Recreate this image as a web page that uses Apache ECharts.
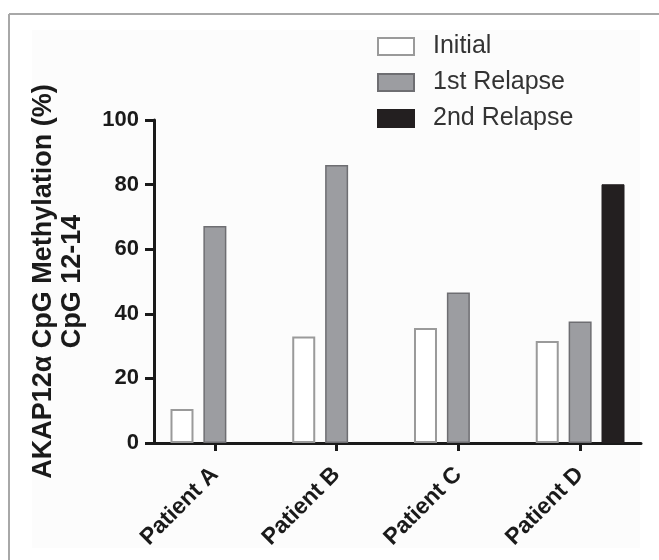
<!DOCTYPE html>
<html><head><meta charset="utf-8">
<script src="https://cdn.jsdelivr.net/npm/echarts/dist/echarts.min.js"></script>
<style>html,body{margin:0;padding:0;background:#fff}#c{width:659px;height:560px}</style>
</head><body><div id="c"></div>
<script>
const categories = ['Patient A', 'Patient B', 'Patient C', 'Patient D'];
const seriesNames = ['Initial', '1st Relapse', '2nd Relapse'];
const initial = [10.5, 33.0, 35.6, 31.6];
const firstRelapse = [67.2, 86.1, 46.6, 37.6];
const secondRelapse = [null, null, null, 80.1];
const yMin = 0, yMax = 100, yStep = 20;
const yName = 'AKAP12\u03b1 CpG Methylation (%)\nCpG 12-14';

const font = '"Liberation Sans", Arial, sans-serif';
const chart = echarts.init(document.getElementById('c'), null, {renderer: 'canvas'});
chart.setOption({
  animation: false,
  backgroundColor: '#ffffff',
  textStyle: {fontFamily: font},
  graphic: [
    {type: 'rect', silent: true, z: -10, shape: {x: 32, y: 30, width: 608, height: 518}, style: {fill: '#fcfcfc'}},
    {type: 'line', silent: true, shape: {x1: 9, y1: 14, x2: 659, y2: 14}, style: {stroke: '#a8a8a8', lineWidth: 2}},
    {type: 'line', silent: true, shape: {x1: 9, y1: 14, x2: 9, y2: 560}, style: {stroke: '#a8a8a8', lineWidth: 2}}
  ],
  legend: {
    orient: 'vertical', left: 372, top: 29, itemWidth: 36, itemHeight: 17, itemGap: 11,
    icon: 'rect',
    data: seriesNames,
    textStyle: {fontSize: 25, color: '#333', fontFamily: font, padding: [0, 0, 0, 14]}
  },
  grid: {left: 154, right: 18, top: 120, bottom: 117, containLabel: false},
  xAxis: {
    type: 'category', data: categories,
    axisLine: {lineStyle: {color: '#1a1a1a', width: 3}},
    axisTick: {show: true, alignWithLabel: true, length: 8, lineStyle: {color: '#1a1a1a', width: 3}},
    axisLabel: {rotate: 45, fontSize: 23, fontWeight: 'bold', color: '#1a1a1a', margin: 28, fontFamily: font}
  },
  yAxis: {
    type: 'value', min: yMin, max: yMax, interval: yStep,
    name: yName, nameLocation: 'middle', nameGap: 67, nameRotate: 90,
    nameTextStyle: {fontSize: 27, fontWeight: 'bold', color: '#1a1a1a', lineHeight: 29, fontFamily: font, align: 'center'},
    axisLine: {show: true, lineStyle: {color: '#1a1a1a', width: 3}},
    axisTick: {show: true, length: 9, lineStyle: {color: '#1a1a1a', width: 3}},
    splitLine: {show: false},
    axisLabel: {fontSize: 22, fontWeight: 'bold', color: '#1a1a1a', margin: 15, fontFamily: font}
  },
  series: [
    {name: seriesNames[0], type: 'bar', data: initial, barWidth: 23, barGap: '43%',
     itemStyle: {color: '#ffffff', borderColor: '#9a9a9a', borderWidth: 2}},
    {name: seriesNames[1], type: 'bar', data: firstRelapse, barWidth: 23, barGap: '43%',
     itemStyle: {color: '#9c9da1', borderColor: '#6e6e72', borderWidth: 1.5}},
    {name: seriesNames[2], type: 'bar', data: secondRelapse, barWidth: 23, barGap: '43%',
     itemStyle: {color: '#231f20', borderColor: '#231f20', borderWidth: 1}}
  ]
});
</script>
</body></html>
